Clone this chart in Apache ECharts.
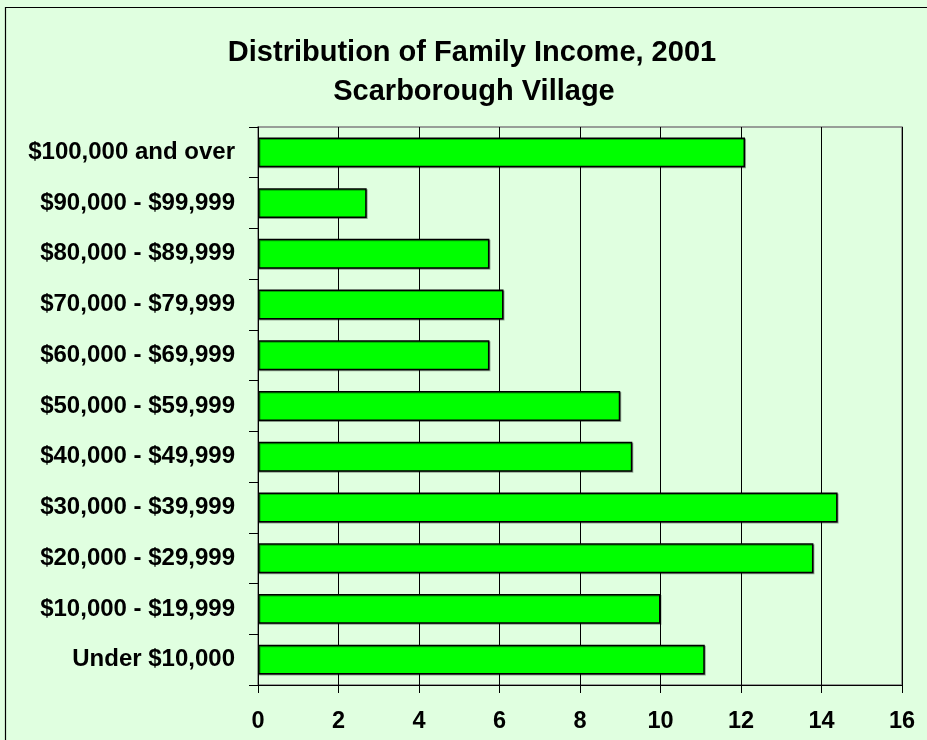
<!DOCTYPE html>
<html>
<head>
<meta charset="utf-8">
<script src="https://cdn.jsdelivr.net/npm/echarts@6/dist/echarts.min.js"></script>
<style>
html,body{margin:0;padding:0;background:#E0FFE0;}
#chart{width:927px;height:740px;}
</style>
</head>
<body>
<div id="chart"></div>
<script>
var categories = ["Under $10,000","$10,000 - $19,999","$20,000 - $29,999","$30,000 - $39,999","$40,000 - $49,999","$50,000 - $59,999","$60,000 - $69,999","$70,000 - $79,999","$80,000 - $89,999","$90,000 - $99,999","$100,000 and over"];
var values = [11.1, 10.0, 13.8, 14.4, 9.3, 9.0, 5.75, 6.1, 5.75, 2.7, 12.1];
var titleLines = ["Distribution of Family Income, 2001", "Scarborough Village"];

var FONT = '"Liberation Sans", Arial, sans-serif';
var chart = echarts.init(document.getElementById('chart'));
chart.setOption({
  backgroundColor: '#E0FFE0',
  animation: false,
  title: [
    {text: titleLines[0], left: 467, top: 33, textAlign: 'center',
     textStyle: {fontFamily: FONT, fontSize: 29, fontWeight: 'bold', color: '#000'}},
    {text: titleLines[1], left: 469, top: 72, textAlign: 'center',
     textStyle: {fontFamily: FONT, fontSize: 29, fontWeight: 'bold', color: '#000'}}
  ],
  graphic: [{
    type: 'rect', z: -1, silent: true,
    shape: {x: 5.5, y: 7.5, width: 940, height: 750},
    style: {fill: 'none', stroke: '#000', lineWidth: 1.2}
  }],
  grid: {left: 258, right: 25, top: 127, bottom: 55, show: true,
         backgroundColor: '#E0FFE0', borderColor: '#808080', borderWidth: 1.5},
  xAxis: {
    type: 'value', min: 0, max: 16, interval: 2,
    axisLine: {show: true, lineStyle: {color: '#000', width: 1}},
    axisTick: {show: true, length: 8, lineStyle: {color: '#000'}},
    axisLabel: {margin: 25, fontFamily: FONT, fontSize: 23.5, fontWeight: 'bold', color: '#000'},
    splitLine: {show: true, lineStyle: {color: '#000', width: 1}}
  },
  yAxis: {
    type: 'category', data: categories,
    axisLine: {show: true, lineStyle: {color: '#000', width: 1}},
    axisTick: {show: true, length: 9, lineStyle: {color: '#000'}},
    axisLabel: {margin: 23, fontFamily: FONT, fontSize: 24, fontWeight: 'bold', color: '#000'},
    splitLine: {show: false}
  },
  series: [{
    type: 'bar', data: values, barCategoryGap: '41%',
    itemStyle: {color: '#00FF00', borderColor: '#000', borderWidth: 1.5,
                shadowColor: 'rgba(0,0,0,0.35)', shadowOffsetX: 1, shadowOffsetY: 1}
  }]
});
</script>
</body>
</html>
